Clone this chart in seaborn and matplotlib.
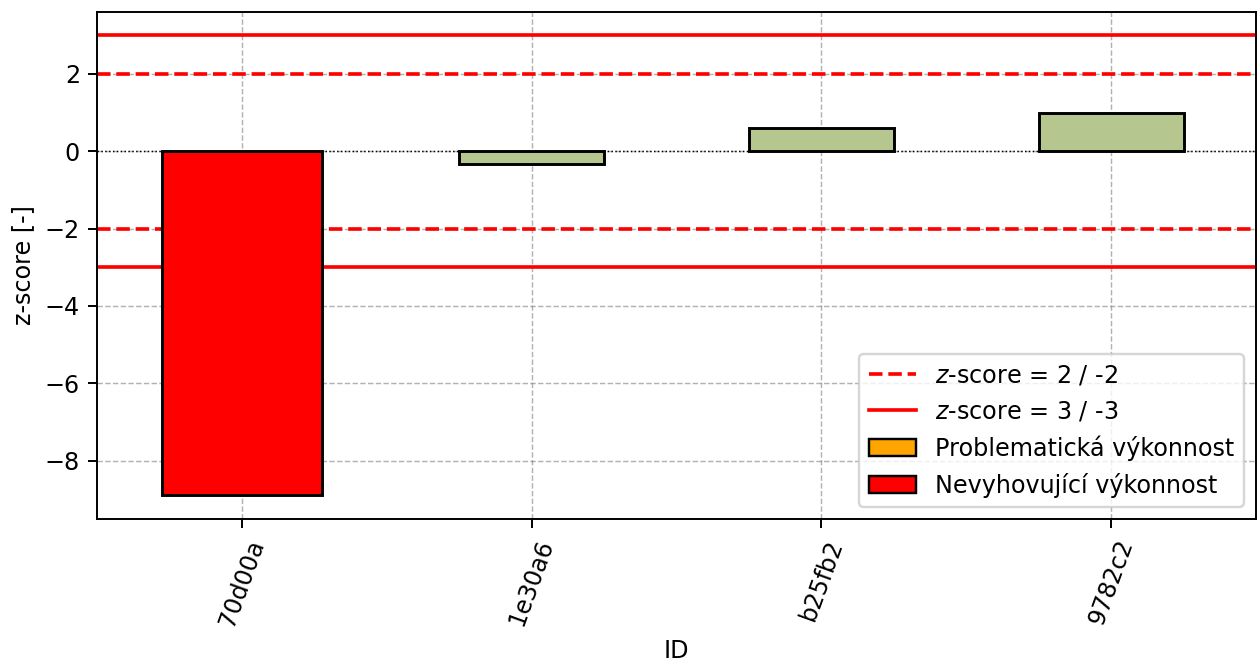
import matplotlib
matplotlib.use("Agg")
import matplotlib.pyplot as plt
import seaborn as sns
from matplotlib.lines import Line2D
from matplotlib.patches import Patch

# DATA
ids = ["70d00a", "1e30a6", "b25fb2", "9782c2"]
z_scores = [-8.88, -0.33, 0.6, 0.98]
bar_colors = ["#ff0000", "#b5c68e", "#b5c68e", "#b5c68e"]
bar_widths = [0.55, 0.5, 0.5, 0.5]
legend_labels = [
    "$z$-score = 2 / -2",
    "$z$-score = 3 / -3",
    "Problematická výkonnost",
    "Nevyhovující výkonnost",
]

plt.rcParams["font.size"] = 9.8

# PLOT
fig, ax = plt.subplots(figsize=(1258 / 175, 662 / 175), dpi=175)

sns.barplot(
    x=ids,
    y=z_scores,
    hue=ids,
    palette=bar_colors,
    legend=False,
    width=0.5,
    edgecolor="black",
    linewidth=1.2,
    saturation=1,
    ax=ax,
    zorder=3,
)

# red bar is a bit wider than the others
for patch, w in zip(ax.patches, bar_widths):
    center = patch.get_x() + patch.get_width() / 2
    patch.set_width(w)
    patch.set_x(center - w / 2)

ax.axhline(0, color="black", linestyle=":", linewidth=0.6, zorder=2)
ax.axhline(2, color="red", linestyle="--", linewidth=1.5, zorder=2)
ax.axhline(-2, color="red", linestyle="--", linewidth=1.5, zorder=2)
ax.axhline(3, color="red", linestyle="-", linewidth=1.5, zorder=2)
ax.axhline(-3, color="red", linestyle="-", linewidth=1.5, zorder=2)

ax.grid(True, linestyle="--", color="gray", alpha=0.6, linewidth=0.6, zorder=0)
ax.set_axisbelow(True)
ax.set_xlim(-0.5, 3.5)
ax.set_ylim(-9.5, 3.59)

ax.set_xlabel("ID")
ax.set_ylabel("z-score [-]")
plt.setp(ax.get_xticklabels(), rotation=70)

handles = [
    Line2D([0], [0], color="red", linestyle="--", linewidth=1.5),
    Line2D([0], [0], color="red", linestyle="-", linewidth=1.5),
    Patch(facecolor="orange", edgecolor="black"),
    Patch(facecolor="red", edgecolor="black"),
]
ax.legend(handles, legend_labels, loc="lower right")

plt.subplots_adjust(left=97 / 1258, right=1256 / 1258, top=1 - 12 / 662, bottom=1 - 519 / 662)
plt.savefig("out.png", dpi=175)
